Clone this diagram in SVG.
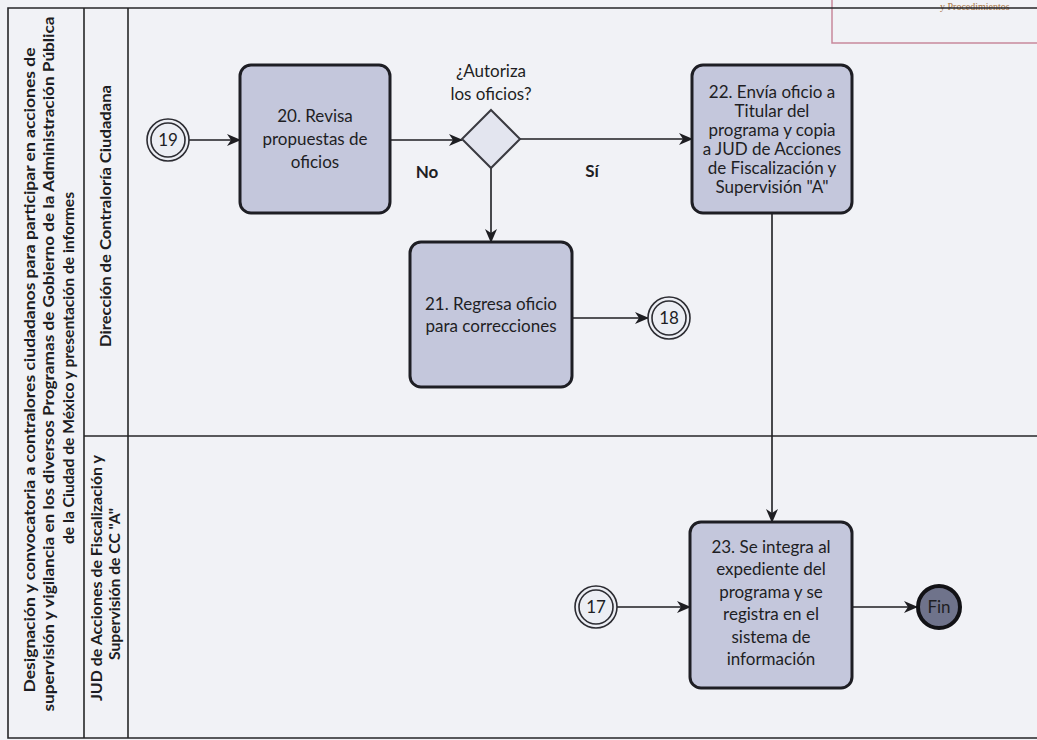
<svg xmlns="http://www.w3.org/2000/svg" width="1037" height="740" viewBox="0 0 1037 740">
  <style>
    .frame { fill: none; stroke: #262628; stroke-width: 1.6; }
    .hdr { font-family: Lato, "Liberation Sans", sans-serif; font-weight: bold; font-size: 16px; fill: #1d1d22; text-anchor: middle; }
    .task rect { fill: #c4c7dc; stroke: #1e1e24; stroke-width: 3; }
    .lbl { font-family: Lato, "Liberation Sans", sans-serif; font-size: 17px; fill: #1e1e24; text-anchor: middle; }
    .bold { font-weight: bold; }
    .ref circle { fill: #eceef4; stroke: #2c2c32; stroke-width: 1.6; }
    .edge { fill: none; stroke: #1e1e22; stroke-width: 1.6; }
  </style>
  <defs>
    <marker id="arrow" markerUnits="userSpaceOnUse" markerWidth="14" markerHeight="12" viewBox="0 0 14 12" refX="13" refY="6" orient="auto">
      <path d="M0,0 L14,6 L0,12 L4,6 z" fill="#1e1e22"/>
    </marker>
  </defs>

  <!-- paper -->
  <rect x="0" y="0" width="1037" height="740" fill="#f1f2f6"/>

  <!-- page header corner box -->
  <path d="M832,0 V43 H1037" fill="none" stroke="#c8899c" stroke-width="1.5"/>
  <text x="940" y="10" font-family="Liberation Serif, serif" font-size="10" fill="#a8733f">y Procedimientos</text>

  <!-- pool frame and lanes -->
  <g id="pool">
    <path class="frame" d="M1037,8 H8 V738 H1037"/>
    <line class="frame" x1="84" y1="8" x2="84" y2="738"/>
    <line class="frame" x1="128" y1="8" x2="128" y2="738"/>
    <line class="frame" x1="84" y1="436" x2="1037" y2="436"/>
    <text class="hdr" transform="translate(35,370) rotate(-90)" textLength="645" lengthAdjust="spacingAndGlyphs">Designación y convocatoria a contralores ciudadanos para participar en acciones de</text>
    <text class="hdr" transform="translate(54,364) rotate(-90)" textLength="695" lengthAdjust="spacingAndGlyphs">supervisión y vigilancia en los diversos Programas de Gobierno de la Administración Pública</text>
    <text class="hdr" transform="translate(74,368) rotate(-90)" textLength="352" lengthAdjust="spacingAndGlyphs">de la Ciudad  de México y presentación de informes</text>
  </g>
  <g id="lane-direccion">
    <text class="hdr" transform="translate(111,216) rotate(-90)" textLength="262" lengthAdjust="spacingAndGlyphs">Dirección de Contraloría Ciudadana</text>
  </g>
  <g id="lane-jud">
    <text class="hdr" transform="translate(102,578) rotate(-90)" textLength="246" lengthAdjust="spacingAndGlyphs">JUD de Acciones de Fiscalización y</text>
    <text class="hdr" transform="translate(120,584) rotate(-90)" textLength="152" lengthAdjust="spacingAndGlyphs">Supervisión de CC "A"</text>
  </g>

  <!-- connectors -->
  <g id="connectors">
    <path class="edge" d="M189,140 H240" marker-end="url(#arrow)"/>
    <path class="edge" d="M390,140 H462" marker-end="url(#arrow)"/>
    <path class="edge" d="M520,139 H692" marker-end="url(#arrow)"/>
    <path class="edge" d="M491,168 V242" marker-end="url(#arrow)"/>
    <path class="edge" d="M572,318 H648" marker-end="url(#arrow)"/>
    <path class="edge" d="M772,213 V522" marker-end="url(#arrow)"/>
    <path class="edge" d="M617,607 H690" marker-end="url(#arrow)"/>
    <path class="edge" d="M852,607 H917" marker-end="url(#arrow)"/>
    <text class="lbl bold" x="427" y="178">No</text>
    <text class="lbl bold" x="592" y="177">Sí</text>
  </g>

  <!-- off-page references -->
  <g id="ref-19" class="ref">
    <circle cx="168" cy="140" r="21"/>
    <circle cx="168" cy="140" r="17"/>
    <text class="lbl" x="168" y="146">19</text>
  </g>
  <g id="ref-18" class="ref">
    <circle cx="669" cy="318" r="21"/>
    <circle cx="669" cy="318" r="17"/>
    <text class="lbl" x="669" y="324">18</text>
  </g>
  <g id="ref-17" class="ref">
    <circle cx="596" cy="607" r="21"/>
    <circle cx="596" cy="607" r="17"/>
    <text class="lbl" x="596" y="613">17</text>
  </g>

  <!-- tasks -->
  <g id="task-20" class="task">
    <rect x="240" y="65" width="150" height="148" rx="11"/>
    <text class="lbl" x="315" y="122">20. Revisa</text>
    <text class="lbl" x="315" y="145">propuestas de</text>
    <text class="lbl" x="315" y="168">oficios</text>
  </g>

  <g id="gateway">
    <text class="lbl" x="491" y="77">¿Autoriza</text>
    <text class="lbl" x="491" y="100">los oficios?</text>
    <path d="M491,110 L520,139 L491,168 L462,139 z" fill="#e3e5ef" stroke="#3a3a40" stroke-width="2"/>
  </g>

  <g id="task-21" class="task">
    <rect x="410" y="242" width="162" height="145" rx="11"/>
    <text class="lbl" x="491" y="310">21. Regresa oficio</text>
    <text class="lbl" x="491" y="332">para correcciones</text>
  </g>

  <g id="task-22" class="task">
    <rect x="692" y="65" width="160" height="148" rx="11"/>
    <text class="lbl" x="772" y="98">22. Envía oficio a</text>
    <text class="lbl" x="772" y="117">Titular del</text>
    <text class="lbl" x="772" y="136">programa y copia</text>
    <text class="lbl" x="772" y="155">a JUD de Acciones</text>
    <text class="lbl" x="772" y="174">de Fiscalización y</text>
    <text class="lbl" x="772" y="193">Supervisión "A"</text>
  </g>

  <g id="task-23" class="task">
    <rect x="690" y="522" width="162" height="166" rx="11"/>
    <text class="lbl" x="771" y="553">23. Se integra al</text>
    <text class="lbl" x="771" y="575">expediente del</text>
    <text class="lbl" x="771" y="598">programa y se</text>
    <text class="lbl" x="771" y="620">registra en el</text>
    <text class="lbl" x="771" y="643">sistema de</text>
    <text class="lbl" x="771" y="665">información</text>
  </g>

  <!-- end event -->
  <g id="end">
    <circle cx="939" cy="607" r="21" fill="#6f738b" stroke="#121216" stroke-width="4"/>
    <text class="lbl" x="939" y="613" fill="#15151a">Fin</text>
  </g>
</svg>
